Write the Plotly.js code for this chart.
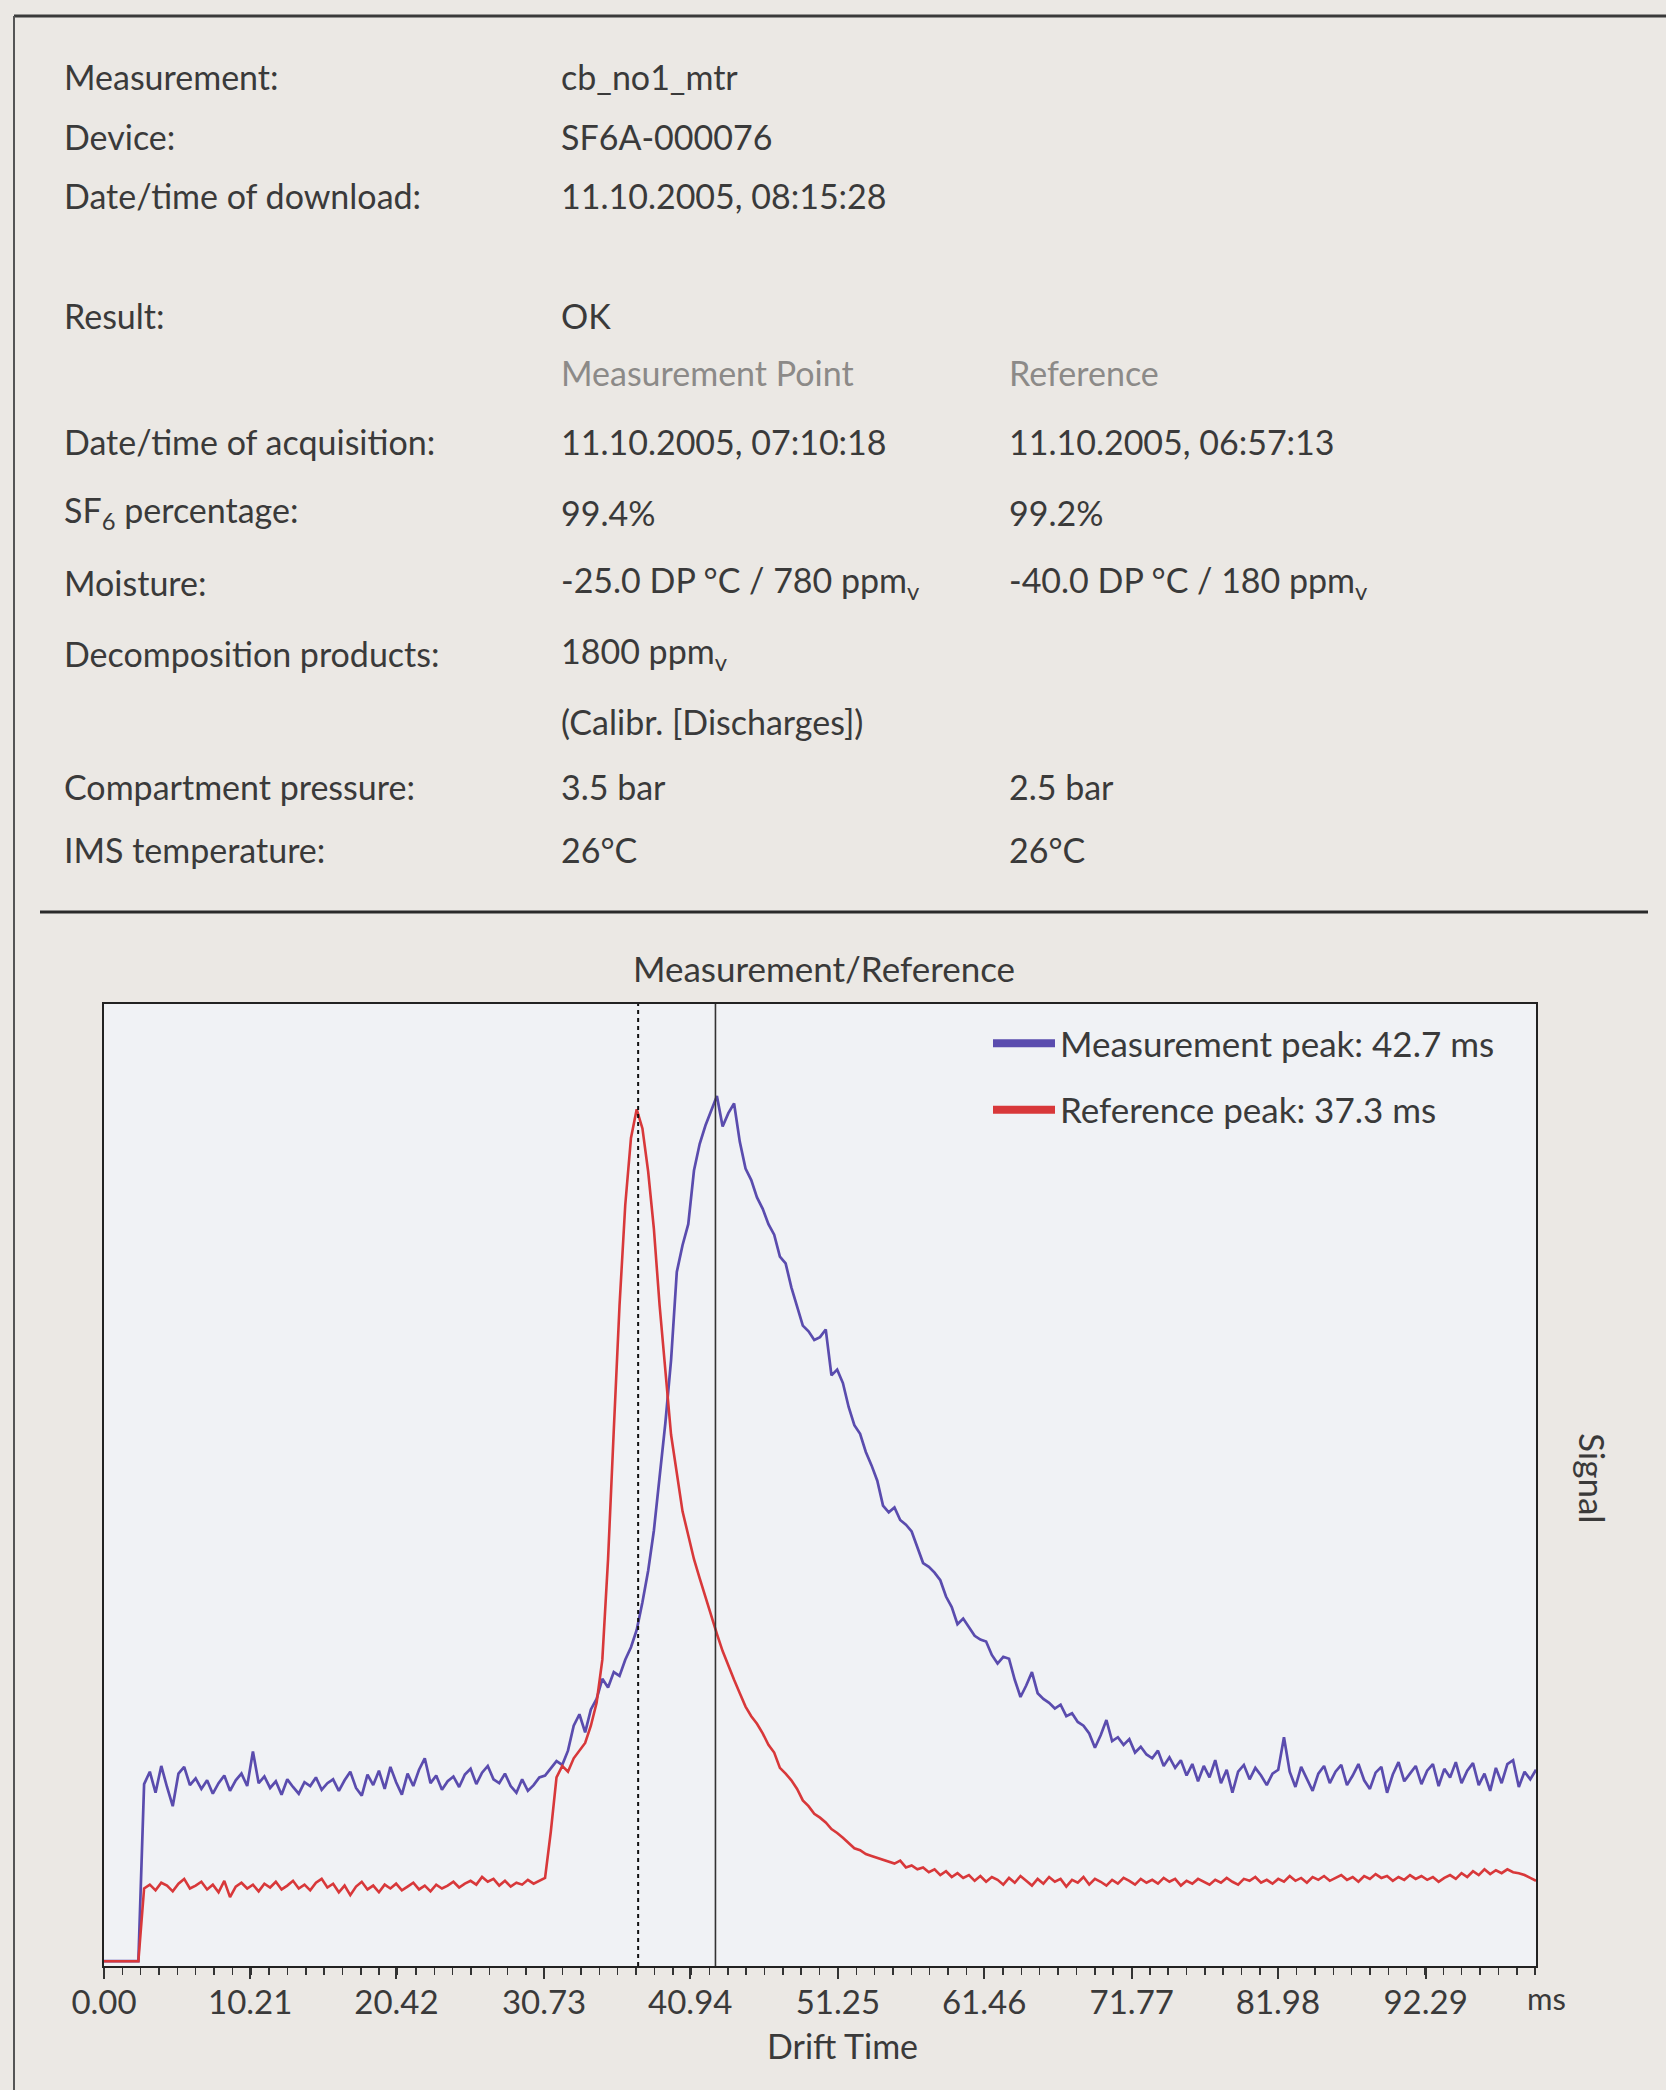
<!DOCTYPE html>
<html>
<head>
<meta charset="utf-8">
<script src="https://cdn.plot.ly/plotly-3.0.1.min.js"></script>
<style>
html,body{margin:0;padding:0;background:#ebe8e4;}
#chart{width:1666px;height:2090px;}
</style>
</head>
<body>
<div id="chart"></div>
<script>
// ---------- data ----------
const driftStart = 0;      // ms, first sample
const driftStep = 0.4;     // ms between samples

const measurementSignal = [
0,0,0,0,0,0,0,
18.5,19.8,17.6,20.4,18.2,16.2,19.6,20.3,18.4,19.1,
18.0,18.9,17.5,18.6,19.4,17.8,18.9,19.6,18.3,21.9,
18.6,19.3,18.1,18.8,17.4,19.0,18.2,17.5,18.7,18.3,
19.2,17.9,18.6,19.0,17.8,18.9,19.8,18.1,17.3,19.5,
18.4,19.9,18.0,20.3,18.7,17.4,19.6,18.3,20.0,21.2,
18.6,19.4,17.9,18.8,19.3,18.2,19.5,20.1,18.5,19.7,
20.4,19.0,18.6,19.6,18.3,17.6,19.0,17.8,18.4,19.2,
19.4,20.2,20.9,20.5,22.0,24.6,25.8,23.9,26.3,27.4,
29.5,28.6,30.2,29.8,31.5,32.8,34.6,37.5,40.8,45.0,
50.6,56.2,62.8,72.0,74.8,77.0,82.6,85.4,87.3,88.8,
90.4,87.2,88.6,89.6,85.6,82.8,81.6,79.8,78.6,77.0,
75.9,73.6,72.9,70.4,68.5,66.4,65.8,64.9,65.2,66.0,
61.2,61.8,60.4,57.9,56.0,55.1,53.2,51.8,50.2,47.6,
46.9,47.4,46.1,45.6,44.9,43.2,41.6,41.2,40.6,39.8,
38.1,37.0,35.2,35.8,34.9,34.0,33.6,33.4,32.0,31.1,
31.8,31.6,29.4,27.6,28.8,30.2,28.0,27.4,27.0,26.4,
26.8,25.6,25.9,25.0,24.6,23.8,22.3,23.6,25.2,23.0,
23.4,22.6,23.2,21.8,22.4,21.6,21.2,22.0,20.4,21.3,
20.2,21.0,19.4,20.6,18.8,20.4,19.2,21.0,18.6,20.0,
17.6,19.8,20.5,19.0,20.2,19.4,18.4,19.6,20.0,23.4,
19.8,18.2,20.3,19.1,17.8,19.6,20.4,18.6,19.8,20.5,
18.4,19.4,20.6,18.9,18.0,19.7,20.3,17.6,19.5,20.8,
18.8,19.6,20.4,18.5,19.9,20.6,18.3,20.1,19.2,20.8,
18.6,19.9,20.7,18.4,19.6,17.8,20.2,18.6,20.6,21.0,
18.2,19.8,19.0,20.0
];

const referenceSignal = [
0,0,0,0,0,0,0,
7.6,8.0,7.4,8.2,7.9,7.3,8.1,8.6,7.6,7.9,
8.3,7.5,8.0,7.2,8.4,6.7,7.8,8.2,7.6,8.0,
7.3,8.1,7.7,8.3,7.5,7.9,8.4,7.6,8.0,7.4,
8.2,8.6,7.7,8.1,7.2,7.9,6.9,7.8,8.3,7.5,
7.9,7.2,8.0,7.6,8.1,7.4,7.8,8.2,7.5,7.9,
7.3,8.0,7.6,7.9,8.3,7.7,8.1,8.4,8.0,8.8,
8.3,8.6,7.9,8.4,7.8,8.2,8.0,8.5,8.1,8.4,
8.7,13.5,19.2,20.4,19.8,21.2,22.0,22.8,24.6,27.0,
31.5,42.0,55.5,68.5,79.0,86.0,89.0,87.0,82.5,76.5,
68.5,61.5,55.0,51.0,47.0,44.5,42.0,40.0,38.0,36.0,
34.2,32.4,30.8,29.4,28.0,26.6,25.6,24.8,23.8,22.6,
21.8,20.2,19.6,18.9,18.0,16.8,16.2,15.4,15.0,14.5,
13.8,13.4,12.9,12.3,11.8,11.6,11.2,11.0,10.8,10.6,
10.4,10.2,10.5,9.8,10.0,9.6,9.8,9.3,9.6,9.0,
9.4,8.8,9.2,8.7,9.0,8.4,8.9,8.3,8.8,8.5,
8.0,8.7,8.2,8.9,8.4,7.9,8.6,8.1,8.8,8.3,
8.6,7.8,8.5,8.2,8.8,8.0,8.6,8.3,7.9,8.5,
8.1,8.7,8.4,8.0,8.6,8.2,8.5,8.1,8.7,8.3,
8.6,7.9,8.4,8.1,8.6,8.3,8.0,8.5,8.2,8.7,
8.3,8.0,8.6,8.4,8.8,8.2,8.5,8.1,8.6,8.3,
8.9,8.4,8.7,8.2,8.8,8.5,8.9,8.4,8.7,9.0,
8.5,8.8,8.3,8.9,8.6,9.1,8.7,8.9,8.4,8.8,
8.5,9.0,8.6,8.9,8.5,8.8,8.3,8.7,9.0,8.6,
9.2,8.8,9.4,9.0,9.6,9.1,9.5,9.2,9.6,9.3,
9.2,9.0,8.7,8.4
];

const measurementPeak = 42.7;  // ms
const referencePeak = 37.3;    // ms

const tickValues = [0, 10.21, 20.42, 30.73, 40.94, 51.25, 61.46, 71.77, 81.98, 92.29];
const tickLabels = ["0.00", "10.21", "20.42", "30.73", "40.94", "51.25", "61.46", "71.77", "81.98", "92.29"];

const infoLabels = ["Measurement:", "Device:", "Date/time of download:", "Result:", "",
  "Date/time of acquisition:", "SF<sub>6</sub> percentage:", "Moisture:", "Decomposition products:", "",
  "Compartment pressure:", "IMS temperature:"];
const infoMeasurement = ["cb_no1_mtr", "SF6A-000076", "11.10.2005, 08:15:28", "OK", "Measurement Point",
  "11.10.2005, 07:10:18", "99.4%", "-25.0 DP °C / 780 ppm<sub>v</sub>", "1800 ppm<sub>v</sub>", "(Calibr. [Discharges])",
  "3.5 bar", "26°C"];
const infoReference = ["", "", "", "", "Reference",
  "11.10.2005, 06:57:13", "99.2%", "-40.0 DP °C / 180 ppm<sub>v</sub>", "", "",
  "2.5 bar", "26°C"];

// ---------- layout geometry (pixels on the 1666x2090 page) ----------
const W = 1666, H = 2090;
const plotL = 104, plotR = 1536, plotT = 1004, plotB = 1966;
const px = v => (v - plotL) / (plotR - plotL);
const py = v => (plotB - v) / (plotB - plotT);
const rowY = [77, 136, 195, 315, 373, 441, 512, 582, 653, 721, 786, 849];
const colX = [62, 559, 1007];
const headerRow = 4;

const FONT = 'Lato, "Open Sans", sans-serif';
const TXT = '#3a3a3a';
const BLUE = '#5a4cae';
const RED = '#d8383a';

const traces = [
  {type:'scatter', mode:'lines', x0: driftStart, dx: driftStep, y: measurementSignal,
   line:{color: BLUE, width: 2.7}, showlegend:false, hoverinfo:'skip'},
  {type:'scatter', mode:'lines', x0: driftStart, dx: driftStep, y: referenceSignal,
   line:{color: RED, width: 2.6}, showlegend:false, hoverinfo:'skip'},
  {type:'scatter', mode:'lines', x:[null], y:[null], name:'Measurement peak: ' + measurementPeak.toFixed(1) + ' ms',
   line:{color: BLUE, width: 8}, legendgroup:'m'},
  {type:'scatter', mode:'lines', x:[null], y:[null], name:'Reference peak: ' + referencePeak.toFixed(1) + ' ms',
   line:{color: RED, width: 8}, legendgroup:'r'}
];

const annotations = [];
for (let i = 0; i < infoLabels.length; i++) {
  const color = (i === headerRow) ? '#8c8a88' : TXT;
  const cells = [infoLabels[i], infoMeasurement[i], infoReference[i]];
  cells.forEach((t, c) => {
    if (!t) return;
    annotations.push({xref:'paper', yref:'paper', x: px(colX[c]), y: py(rowY[i]),
      xanchor:'left', yanchor:'middle', showarrow:false, text: t,
      font:{family: FONT, size: 34, color: color}});
  });
}
annotations.push({xref:'paper', yref:'paper', x: px(1546), y: py(1998), xanchor:'center', yanchor:'middle',
  showarrow:false, text:'ms', font:{family: FONT, size: 31, color: TXT}});
annotations.push({xref:'paper', yref:'paper', x: px(842), y: py(2045), xanchor:'center', yanchor:'middle',
  showarrow:false, text:'Drift Time', font:{family: FONT, size: 34, color: TXT}});
annotations.push({xref:'paper', yref:'paper', x: px(1593), y: py(1479), xanchor:'center', yanchor:'middle',
  showarrow:false, text:'Signal', textangle: 90, font:{family: FONT, size: 35, color: TXT}});

const shapes = [
  {type:'line', xref:'paper', yref:'paper', x0: px(14), x1: px(W), y0: py(16), y1: py(16), line:{color:'#3a3a3a', width:3}},
  {type:'line', xref:'paper', yref:'paper', x0: px(14), x1: px(14), y0: py(16), y1: py(H), line:{color:'#555', width:2}},
  {type:'line', xref:'paper', yref:'paper', x0: px(40), x1: px(1648), y0: py(912), y1: py(912), line:{color:'#2a2a2a', width:3}},
  {type:'line', xref:'x', yref:'paper', x0: referencePeak, x1: referencePeak, y0: 0, y1: 1, layer:'above',
   line:{color:'#111', width:2, dash:'4px,4px'}},
  {type:'line', xref:'x', yref:'paper', x0: measurementPeak, x1: measurementPeak, y0: 0, y1: 1, layer:'above',
   line:{color:'#333', width:1.6}}
];

const layout = {
  width: W, height: H,
  margin:{l: plotL, r: W - plotR, t: plotT, b: H - plotB, pad:0},
  paper_bgcolor:'#ebe8e4', plot_bgcolor:'#f0f2f5',
  font:{family: FONT, color: TXT},
  title:{text:'Measurement/Reference', xref:'paper', x: px(824), xanchor:'center',
         yref:'container', y: 1 - 970/H, yanchor:'middle', font:{family: FONT, size: 35, color: TXT}},
  xaxis:{range:[0,100], showgrid:false, zeroline:false, showline:true, mirror:true, linecolor:'#222', linewidth:2,
         ticks:'outside', ticklen:11, tickwidth:2, tickcolor:'#333', tickmode:'array', ticklabelstandoff:-5,
         tickvals: tickValues, ticktext: tickLabels, tickfont:{family: FONT, size: 33, color: TXT},
         minor:{tickmode:'linear', tick0:0, dtick:1.28125, ticks:'outside', ticklen:7, tickwidth:1.5, tickcolor:'#333', showgrid:false}},
  yaxis:{range:[-0.5,100], showgrid:false, zeroline:false, showline:true, mirror:true, linecolor:'#222', linewidth:2,
         showticklabels:false, ticks:''},
  legend:{x: px(1500), xanchor:'right', y: py(1014), yanchor:'top', bgcolor:'rgba(0,0,0,0)',
          font:{family: FONT, size: 35, color: TXT}, traceorder:'grouped', tracegroupgap: 18, itemwidth: 62},
  showlegend: true,
  annotations: annotations,
  shapes: shapes
};

Plotly.newPlot('chart', traces, layout, {staticPlot:true});
</script>
</body>
</html>
